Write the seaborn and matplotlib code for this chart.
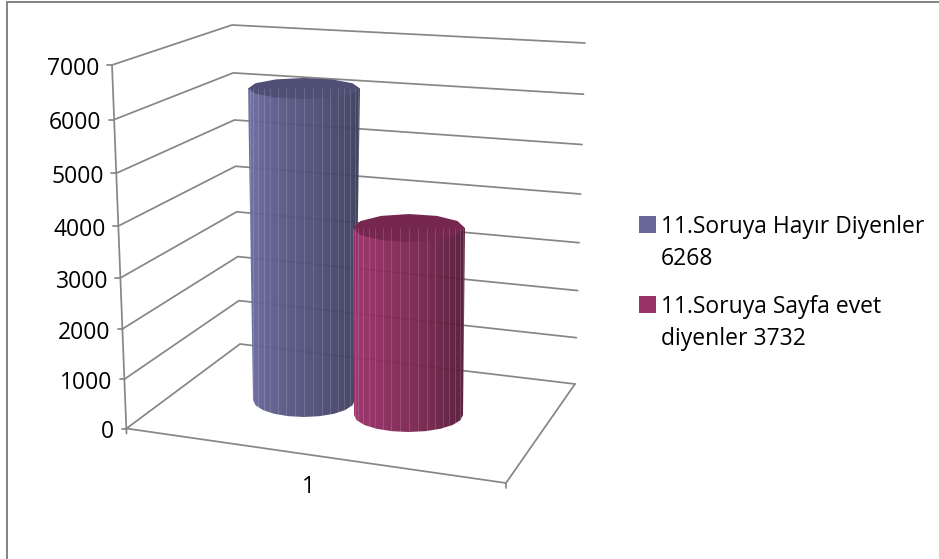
import numpy as np
import pandas as pd
import matplotlib
matplotlib.use("Agg")
import matplotlib.pyplot as plt
import seaborn as sns
from matplotlib.colors import LinearSegmentedColormap
from matplotlib.patches import Polygon, Rectangle

# data
ticks = [0, 1000, 2000, 3000, 4000, 5000, 6000, 7000]
category = "1"
series_lines = [["11.Soruya Hayır Diyenler", "6268"], ["11.Soruya Sayfa evet", "diyenler 3732"]]
series_values = [6268, 3732]

W, H = 939, 559
GRID = "#868686"
FONT = "Open Sans"
FS = 16.5
LW = 1.25
colors = ["#666699", "#993366"]
shades = [["#6a6a9f", "#575783", "#4d4d75", "#3d3d5c"], ["#9a3069", "#862a59", "#74244c", "#551a3a"]]
top_colors = ["#4f4f76", "#762750"]

# wall corners in pixels: (bottom, top)
left_edge = ((126.5, 428.5), (112, 65))
back_edge = ((240, 344), (232, 25))
right_edge = ((575, 384), (585, 43))
floor_front_right = (506, 483)
# cylinders in pixels: x0/x1 top, x0/x1 base, base y, top ellipse and base ellipse half height
cyl_geo = [
    dict(top=(248, 360), base=(253, 355), y_base=400, px_per_unit=0.0497, b_top=10.5, b_base=17),
    dict(top=(353, 465), base=(354, 463), y_base=415, px_per_unit=0.0501, b_top=14, b_base=17),
]


def wall_point(edge, value):
    # the walls recede a little, so equal steps are not quite equal on screen
    t = value / ticks[-1]
    s = t / (t + 1.06 * (1 - t))
    (x0, y0), (x1, y1) = edge
    return x0 + (x1 - x0) * s, y0 + (y1 - y0) * s


sns.set_theme(style="white")
plt.rcParams["font.family"] = [FONT, "DejaVu Sans"]

fig = plt.figure(figsize=(W / 100, H / 100), dpi=100, facecolor="white")
bg = fig.add_axes([0, 0, 1, 1])
bg.set_xlim(0, W)
bg.set_ylim(H, 0)
bg.axis("off")

# chart border
bg.plot([7, 7, W], [H, 1.8, 1.8], color=GRID, lw=1.45, solid_capstyle="butt", solid_joinstyle="miter")

for v in ticks:
    lx, ly = wall_point(left_edge, v)
    bx, by = wall_point(back_edge, v)
    rx, ry = wall_point(right_edge, v)
    bg.plot([lx, bx, rx], [ly, by, ry], color=GRID, lw=LW, solid_joinstyle="miter")
    bg.plot([lx - 5, lx], [ly, ly], color=GRID, lw=LW)
    bg.text(lx - 12.5, ly + 0.7, str(v), ha="right", va="center_baseline", fontsize=FS, color="black")

# y axis and floor
bg.plot([left_edge[1][0], left_edge[0][0]], [left_edge[1][1], left_edge[0][1] + 5], color=GRID, lw=LW)
bg.plot([left_edge[0][0], floor_front_right[0], right_edge[0][0]],
        [left_edge[0][1], floor_front_right[1], right_edge[0][1]], color=GRID, lw=LW)
bg.plot([floor_front_right[0]] * 2, [floor_front_right[1], floor_front_right[1] + 5], color=GRID, lw=LW)
bg.text(308, 487, category, ha="center", va="center", fontsize=FS, color="black")

# cylinders: every one is a row of narrow bars, shaded like the facets of a tube
n_facets = 40
for value, geo, shade, top_color in zip(series_values, cyl_geo, shades, top_colors):
    x0, x1 = min(geo["top"][0], geo["base"][0]), max(geo["top"][1], geo["base"][1])
    y_top = geo["y_base"] - value * geo["px_per_unit"]
    pad_low = geo["b_base"] + 2
    pad_high = geo["b_top"] + 2
    ax = fig.add_axes([x0 / W, 1 - (geo["y_base"] + pad_low) / H, (x1 - x0) / W,
                       (geo["y_base"] + pad_low - y_top + pad_high) / H])
    ax.patch.set_alpha(0)
    cmap = LinearSegmentedColormap.from_list("tube", shade)
    df = pd.DataFrame({"facet": range(n_facets), "value": [value] * n_facets})
    sns.barplot(data=df, x="facet", y="value", hue="facet", palette=[cmap(i / (n_facets - 1)) for i in range(n_facets)],
                legend=False, width=1, saturation=1, dodge=False, ax=ax, linewidth=0, alpha=0.96)
    low = -pad_low / geo["px_per_unit"]
    high = value + pad_high / geo["px_per_unit"]

    # outline of the tube in pixels, used to trim the bars
    theta = np.linspace(0, np.pi, 11)
    cx_base = sum(geo["base"]) / 2
    a_base = (geo["base"][1] - geo["base"][0]) / 2
    cx_top = sum(geo["top"]) / 2
    a_top = (geo["top"][1] - geo["top"][0]) / 2
    bottom_arc = np.c_[cx_base + a_base * np.cos(theta), geo["y_base"] + geo["b_base"] * np.sin(theta)]
    outline = np.vstack([[[geo["top"][1], y_top]], bottom_arc, [[geo["top"][0], y_top]]])
    clip = Polygon(outline, closed=True, transform=bg.transData, fc="none", ec="none")
    ax.add_patch(clip)
    for bar in ax.patches:
        if bar is clip:
            continue
        bar.set_y(low)
        bar.set_height(value - low)
        bar.set_clip_path(clip)

    # thin light lines where the facets meet, tighter towards the edges
    lines = np.cos(np.linspace(0.12, np.pi - 0.12, 19))
    xs = (n_facets - 1) / 2 + lines * n_facets / 2
    vl = ax.vlines(xs, low, value, color="white", lw=0.7, alpha=0.15)
    vl.set_clip_path(clip)

    # lid
    t2 = np.linspace(0, 2 * np.pi, 13)[:-1]
    lid = np.c_[cx_top + a_top * np.cos(t2), y_top + geo["b_top"] * np.sin(t2)]
    ax.add_patch(Polygon(lid, closed=True, transform=bg.transData, fc=top_color, ec="none", clip_on=False))

    ax.set_xlim(-0.5, n_facets - 0.5)
    ax.set_ylim(low, high)
    ax.axis("off")

# legend
for lines, color, y in zip(series_lines, colors, [216, 296]):
    bg.add_patch(Rectangle((639, y), 17, 17, fc=color, ec="none"))
    for i, line in enumerate(lines):
        bg.text(661, y + 8 + i * 32, line, ha="left", va="center_baseline", fontsize=FS, color="black")

fig.savefig("out.png", dpi=100)
